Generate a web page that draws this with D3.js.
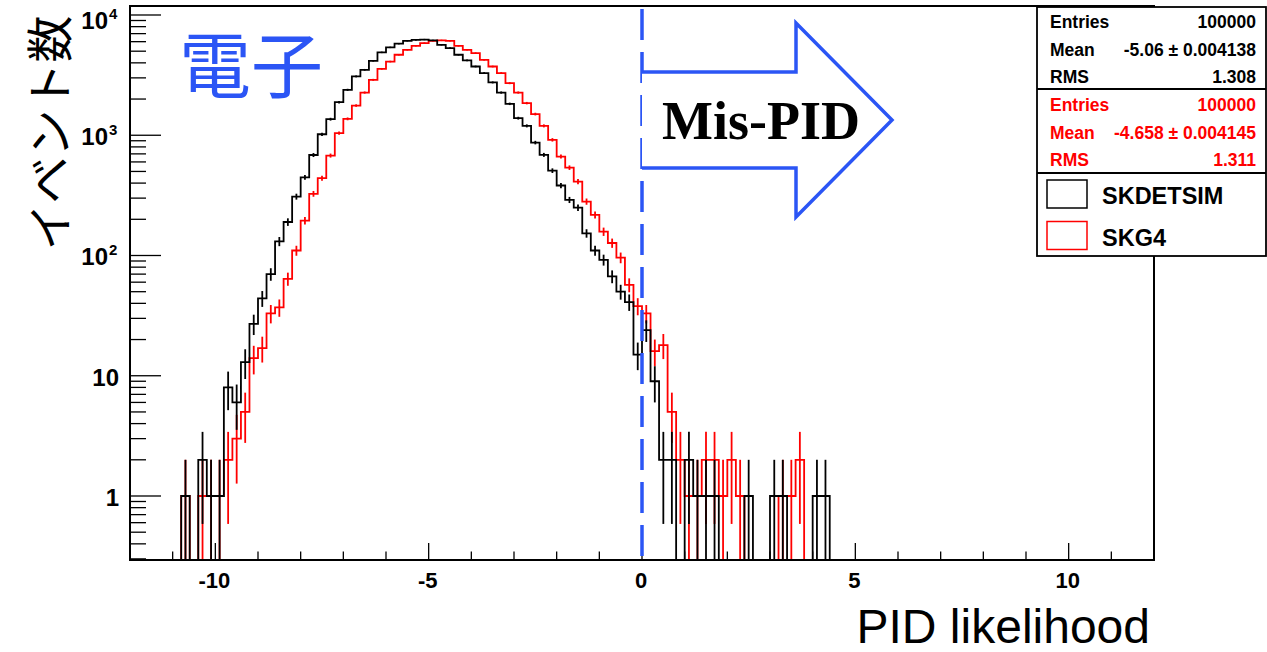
<!DOCTYPE html>
<html>
<head>
<meta charset="utf-8">
<script src="https://cdn.jsdelivr.net/npm/d3@7"></script>
<style>
  html, body { margin: 0; padding: 0; background: #fff; }
  svg { display: block; }
</style>
</head>
<body>
<svg id="svgID" width="1267" height="652"></svg>
<script>
// histogram binning: 0.2 wide bins, first filled bin starts at -10.8
var binStart = -10.8;
var binWidth = 0.2;

// SKDETSIM (black), counts per bin from -10.8 upward
var skdetsimCounts = [1, 0, 2, 1, 1, 8, 6, 13, 27, 44,
    70, 131, 190, 309, 447, 685, 1019, 1360, 1884, 2386,
    3085, 3500, 4160, 4890, 5380, 5770, 6100, 6200, 6250, 6150,
    5650, 5310, 4670, 4190, 3730, 3290, 2750, 2265, 1825, 1387,
    1197, 869, 687, 508, 382, 290, 250, 153, 110, 92,
    67, 50, 41, 15, 24, 9, 2, 2, 0, 2,
    1, 1, 1, 0, 0, 0, 1, 0, 0, 1,
    1, 0, 0, 0, 1, 1];

// SKG4 (red)
var skg4Counts = [1, 0, 1, 1, 1, 2, 3, 5, 14, 17,
    33, 37, 64, 110, 195, 326, 440, 678, 1041, 1369,
    1766, 2265, 2890, 3567, 4100, 4670, 5130, 5540, 5840, 6100,
    6150, 6100, 5540, 5130, 4820, 4240, 3730, 3290, 2710, 2265,
    1850, 1500, 1197, 916, 665, 538, 412, 281, 218, 158,
    127, 96, 57, 38, 33, 16, 18, 5, 2, 1,
    1, 2, 2, 1, 2, 1, 0, 0, 0, 0,
    1, 1, 2];

var xDomain = [-12, 12];
var xMajorTicks = [-10, -5, 0, 5, 10];
var yDecades = [1, 10, 100, 1000, 10000];

var statsBlack = [["Entries", "100000"], ["Mean", "-5.06 \u00b1 0.004138"], ["RMS", "1.308"]];
var statsRed = [["Entries", "100000"], ["Mean", "-4.658 \u00b1 0.004145"], ["RMS", "1.311"]];
var legendNames = ["SKDETSIM", "SKG4"];
var legendColors = ["#000000", "#ff0000"];

(function() {
var svg = d3.select("#svgID"),
    pL = 130, pR = 1154, pT = 6, pB = 560,
    yMin = 0.2936, yMax = 11880;

var x = d3.scaleLinear().domain(xDomain).range([pL, pR]);
var y = d3.scaleLog().domain([yMin, yMax]).range([pB, pT]);

var blue = "#2b55f5";
var font = "'Liberation Sans', Arial, Helvetica, sans-serif";

svg.append("defs").append("clipPath").attr("id", "frameClip")
    .append("rect").attr("x", pL).attr("y", pT)
    .attr("width", pR - pL).attr("height", pB - pT);

var plot = svg.append("g").attr("clip-path", "url(#frameClip)");

function yv(v) { return v > 0 ? y(v) : pB + 2; }

function drawHist(counts, color) {
    var end = binStart + counts.length * binWidth;
    var pts = [[x(xDomain[0]), pB + 2]];
    counts.forEach(function(v, i) {
        pts.push([x(binStart + i * binWidth), yv(v)]);
    });
    pts.push([x(end), yv(counts[counts.length - 1])]);
    pts.push([x(end), pB + 2]);
    pts.push([x(xDomain[1]), pB + 2]);

    var line = d3.line().curve(d3.curveStepAfter);
    plot.append("path")
        .attr("d", line(pts))
        .attr("fill", "none")
        .attr("stroke", color)
        .attr("stroke-width", 1.8);

    // error bars, sqrt(N)
    plot.append("g").selectAll("line")
        .data(counts.map(function(v, i) { return { v: v, c: binStart + (i + 0.5) * binWidth }; })
            .filter(function(d) { return d.v > 0; }))
        .enter().append("line")
        .attr("x1", function(d) { return x(d.c); })
        .attr("x2", function(d) { return x(d.c); })
        .attr("y1", function(d) { return y(d.v + Math.sqrt(d.v)); })
        .attr("y2", function(d) {
            var lo = d.v - Math.sqrt(d.v);
            return lo > yMin ? y(lo) : pB + 2;
        })
        .attr("stroke", color)
        .attr("stroke-width", 1.8);
}

drawHist(skg4Counts, "#ff0000");
drawHist(skdetsimCounts, "#000000");

// frame
svg.append("rect")
    .attr("x", pL).attr("y", pT)
    .attr("width", pR - pL).attr("height", pB - pT)
    .attr("fill", "none").attr("stroke", "#000").attr("stroke-width", 2);

// x ticks (inward)
var xt = svg.append("g");
d3.range(xDomain[0] + 1, xDomain[1]).forEach(function(t) {
    var major = xMajorTicks.indexOf(t) >= 0;
    xt.append("line")
        .attr("x1", x(t)).attr("x2", x(t))
        .attr("y1", pB).attr("y2", pB - (major ? 17 : 8.5))
        .attr("stroke", "#000").attr("stroke-width", 1.3);
});
xt.selectAll("text").data(xMajorTicks).enter().append("text")
    .attr("x", function(d) { return x(d) - 1; })
    .attr("y", 588)
    .attr("text-anchor", "middle")
    .style("font-family", font).style("font-weight", "bold").style("font-size", "22px")
    .text(function(d) { return d; });

// y ticks (log)
var yt = svg.append("g");
var minorVals = [];
[0.1, 1, 10, 100, 1000].forEach(function(dec) {
    for (var k = 2; k <= 9; k++) minorVals.push(dec * k);
});
minorVals.filter(function(v) { return v >= yMin && v <= yMax; }).forEach(function(v) {
    yt.append("line").attr("x1", pL).attr("x2", pL + 16)
        .attr("y1", y(v)).attr("y2", y(v))
        .attr("stroke", "#000").attr("stroke-width", 1.3);
});
yDecades.forEach(function(v) {
    yt.append("line").attr("x1", pL).attr("x2", pL + 31)
        .attr("y1", y(v)).attr("y2", y(v))
        .attr("stroke", "#000").attr("stroke-width", 1.3);
    var base = Math.max(y(v) + 10, 29);
    var t = yt.append("text")
        .attr("y", base)
        .style("font-family", font).style("font-weight", "bold").style("font-size", "24px");
    if (v < 100) {
        t.attr("x", 119).attr("text-anchor", "end").text(v);
    } else {
        t.attr("x", 108).attr("text-anchor", "end").text("10");
        yt.append("text")
            .attr("x", 109).attr("y", base - 10)
            .style("font-family", font).style("font-weight", "bold").style("font-size", "15px")
            .text(Math.round(Math.log10(v)));
    }
});

// dashed cut line at 0
svg.append("line")
    .attr("x1", x(0)).attr("x2", x(0))
    .attr("y1", 9).attr("y2", pB)
    .attr("stroke", blue).attr("stroke-width", 3.5)
    .attr("stroke-dasharray", "31,12");

// arrow
svg.append("path")
    .attr("d", "M" + x(0) + ",72 L796,72 L796,23 L892,120 L796,217 L796,168 L" + x(0) + ",168")
    .attr("fill", "#fff").attr("stroke", blue).attr("stroke-width", 3.5)
    .attr("stroke-linejoin", "miter");

svg.append("text")
    .attr("x", 662).attr("y", 139)
    .style("font-family", "'Liberation Serif', 'Times New Roman', serif")
    .style("font-weight", "bold").style("font-size", "54px")
    .text("Mis-PID");

// labels
svg.append("text")
    .attr("x", 179).attr("y", 92)
    .attr("fill", blue)
    .style("font-family", "'Noto Sans CJK JP', 'Noto Sans CJK SC', sans-serif")
    .style("font-size", "72px")
    .text("電子");

svg.append("text")
    .attr("transform", "translate(67,133) rotate(-90)")
    .attr("text-anchor", "middle")
    .style("font-family", "'Noto Sans CJK JP', 'Noto Sans CJK SC', sans-serif")
    .style("font-size", "47px")
    .text("イベント数");

svg.append("text")
    .attr("x", 1150).attr("y", 643)
    .attr("text-anchor", "end")
    .style("font-family", font).style("font-size", "48px")
    .text("PID likelihood");

// stats box + legend
var box = svg.append("g");
box.append("rect")
    .attr("x", 1037).attr("y", 7).attr("width", 229).attr("height", 249)
    .attr("fill", "#fff").attr("stroke", "#000").attr("stroke-width", 1.8);
[89, 173].forEach(function(yy) {
    box.append("line").attr("x1", 1037).attr("x2", 1266)
        .attr("y1", yy).attr("y2", yy)
        .attr("stroke", "#000").attr("stroke-width", 1.8);
});
function statRows(rows, y0, color) {
    rows.forEach(function(r, i) {
        box.append("text").attr("x", 1050).attr("y", y0 + i * 27.5)
            .attr("fill", color)
            .style("font-family", font).style("font-weight", "bold").style("font-size", "17.5px")
            .text(r[0]);
        box.append("text").attr("x", 1256).attr("y", y0 + i * 27.5)
            .attr("text-anchor", "end").attr("fill", color)
            .style("font-family", font).style("font-weight", "bold").style("font-size", "17.5px")
            .text(r[1]);
    });
}
statRows(statsBlack, 28, "#000");
statRows(statsRed, 111, "#ff0000");

legendNames.forEach(function(n, i) {
    box.append("rect")
        .attr("x", 1047).attr("y", 180 + i * 41.5)
        .attr("width", 40).attr("height", 28)
        .attr("fill", "none").attr("stroke", legendColors[i]).attr("stroke-width", 1.5);
    box.append("text")
        .attr("x", 1102).attr("y", 204 + i * 41.5)
        .style("font-family", font).style("font-weight", "bold").style("font-size", "23.5px")
        .text(n);
});
})();
</script>
</body>
</html>
